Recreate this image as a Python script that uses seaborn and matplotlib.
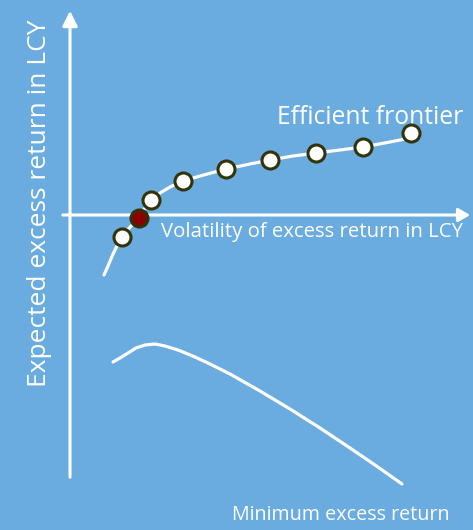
import seaborn as sns
import matplotlib.pyplot as plt
import pandas as pd

# efficient frontier curve (volatility, expected excess return), axis origin at (70, 0)
frontier_vol = [104, 108, 113, 118, 122, 130, 139, 145, 151, 160, 170, 183, 200, 226, 250, 270, 293, 316, 340, 363, 390, 410]
frontier_ret = [-60, -51, -39, -29, -22, -12, -3, 7, 15, 22, 28, 34, 39, 46, 51, 55, 59, 62, 65, 68, 73, 77]

# portfolios on the frontier
port_vol = [122, 151, 183, 226, 270, 316, 363, 411]
port_ret = [-22, 15, 34, 46, 55, 62, 68, 82]
sel_vol = [139]
sel_ret = [-3]

# minimum excess return curve
min_vol = [113, 120, 128, 136, 145, 155, 165, 178, 195, 210, 230, 260, 290, 320, 350, 375, 402]
min_ret = [-147, -143, -138, -133, -130, -129, -131, -135, -142, -149, -159, -176, -194, -213, -233, -250, -269]

bg = "#6aabe0"
sns.set_style("white")
plt.rcParams["font.family"] = ["Open Sans", "DejaVu Sans"]

fig = plt.figure(figsize=(4.73, 5.30), dpi=100, facecolor=bg)
ax = fig.add_axes([0, 0, 1, 1])
ax.set_facecolor(bg)
ax.set_xlim(0, 473)
ax.set_ylim(-315, 215)
for s in ax.spines.values():
    s.set_visible(False)
ax.set_xticks([])
ax.set_yticks([])

# axes with arrows
ax.annotate("", xy=(70, 207), xytext=(70, -265),
            arrowprops=dict(arrowstyle="-|>,head_length=0.9,head_width=0.45", color="white", lw=2.2))
ax.annotate("", xy=(473, 0), xytext=(60, 0),
            arrowprops=dict(arrowstyle="-|>,head_length=0.7,head_width=0.4", color="white", lw=2.2))

fr = pd.DataFrame({"vol": frontier_vol, "ret": frontier_ret})
sns.lineplot(data=fr, x="vol", y="ret", sort=False, color="white", lw=2.3, ax=ax)
mn = pd.DataFrame({"vol": min_vol, "ret": min_ret})
sns.lineplot(data=mn, x="vol", y="ret", sort=False, color="white", lw=2.3, ax=ax)

sns.scatterplot(x=port_vol, y=port_ret, s=150, color="white", edgecolor="#33330a",
                linewidth=2.2, zorder=5, ax=ax)
sns.scatterplot(x=sel_vol, y=sel_ret, s=150, color="#8b0000", edgecolor="#33330a",
                linewidth=2.2, zorder=6, ax=ax)

ax.set_xlabel("")
ax.set_ylabel("")
ax.text(40, 12, "Expected excess return in LCY", rotation=90, color="white",
        fontsize=19, ha="center", va="center")
ax.text(463, 97, "Efficient frontier", color="white", fontsize=17.8, ha="right", va="center")
ax.text(463, -17, "Volatility of excess return in LCY", color="white", fontsize=14.7,
        ha="right", va="center")
ax.text(450, -300, "Minimum excess return", color="white", fontsize=14.2, ha="right", va="center")

fig.savefig("out.png", dpi=100, facecolor=bg)
